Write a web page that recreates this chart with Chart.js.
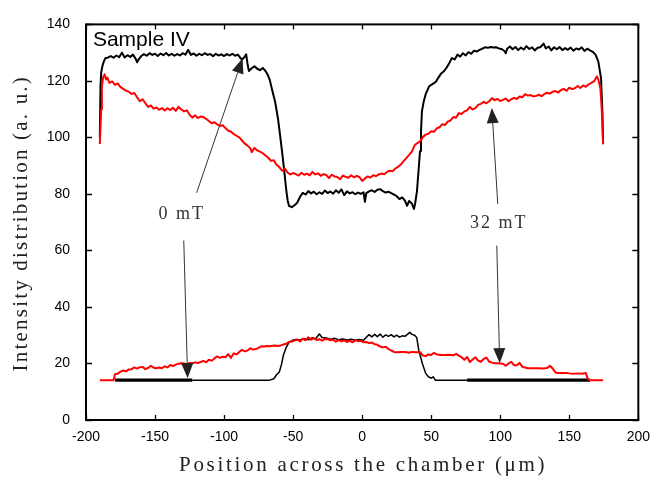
<!DOCTYPE html>
<html><head><meta charset="utf-8">
<script src="https://cdn.jsdelivr.net/npm/chart.js@4"></script>
<style>html,body{margin:0;padding:0;background:#fff}canvas{display:block}</style>
</head><body>
<canvas id="c" width="659" height="477"></canvas>
<script>
// ---- tick labels ----
const xTickValues = [-200,-150,-100,-50,0,50,100,150,200];
const yTickValues = [0,20,40,60,80,100,120,140];

// ---- series: [position (µm), intensity (a.u.)] ----
const upper0mT = [[-190,100],[-189.5,118],[-189,123],[-188,125.5],[-187,127],[-186,128],[-184,128.3],[-182,128.8],[-180,128.2],[-178,129.0],[-176,128.4],[-174,130.0],[-172,128.3],[-170,129.1],[-168,128.5],[-166,129.3],[-164,127.8],[-163,126.6],[-162,127.5],[-160,128.8],[-158,129.5],[-156,128.9],[-154,129.8],[-152,129.2],[-150,129.6],[-148,128.8],[-146,129.7],[-144,129.1],[-142,129.9],[-140,129.0],[-138,129.6],[-136,128.9],[-134,129.5],[-132,129.0],[-130,129.8],[-128,129.3],[-126,131.0],[-124,129.2],[-122,129.7],[-120,128.9],[-118,129.6],[-116,129.1],[-114,129.8],[-112,129.2],[-110,129.5],[-108,128.7],[-106,129.6],[-104,129.0],[-102,129.4],[-100,128.8],[-98,129.5],[-96,129.0],[-94,129.6],[-92,128.9],[-90,129.3],[-88,128.0],[-87,127.5],[-85,128.6],[-84,129.4],[-83,126.0],[-82,123.5],[-80,124.5],[-78,125.2],[-76,124.3],[-74,123.8],[-72,124.6],[-70,123.5],[-68.5,122.3],[-67,120.5],[-65,116.4],[-63,112.5],[-61,106.8],[-59.5,101],[-58,95],[-56.5,88.5],[-55,81.5],[-54,77.8],[-53,75.8],[-51,75.3],[-49,76],[-47,76.9],[-45,79],[-43,80.4],[-41,79.8],[-39,81.0],[-37,80.2],[-35,80.8],[-33,79.9],[-31,80.6],[-29,80.0],[-27,81.2],[-25,80.3],[-23,80.9],[-21,80.1],[-19,81.3],[-17,80.4],[-15,81.6],[-13,79.6],[-11,80.9],[-9,80.2],[-7,80.6],[-5,79.9],[-3,80.5],[-1,80.0],[1,80.6],[2,77.2],[3,80.3],[5,80.9],[7,81.3],[9,80.7],[11,81.5],[13,81.7],[15,81.0],[17,80.5],[19,80.8],[21,80.3],[23,79.8],[25,79.2],[27,78.2],[29,78.8],[31,77.6],[32.5,75.8],[34,77.5],[36,76.6],[37.5,74.7],[38.5,77],[39.7,81],[40.8,88],[41.9,95.2],[42.6,102],[43.3,109.3],[44.5,112.5],[46,115.3],[48.4,118],[50,118.6],[52,119.2],[53.4,119.7],[55,121],[57,122.5],[59,123.3],[61,124.6],[63,126.2],[65,128.1],[67,127.6],[69,129.3],[71,128.6],[73,129.8],[75,129.0],[77,130.2],[79,129.6],[81,130.7],[83,130.4],[85,131.0],[87,131.4],[89,131.9],[91,131.7],[93,132.0],[95,131.8],[97,131.9],[99,131.5],[101,131.3],[103,130.6],[104,129.8],[105,131.4],[107,132.2],[109,131.2],[111,132.0],[113,130.9],[115,131.8],[117,131.1],[119,132.3],[121,131.3],[123,131.9],[125,130.8],[127,131.7],[129,131.9],[131.4,133.2],[133,131.5],[135,132.2],[137,130.8],[139,131.9],[141,131.2],[143,132.0],[145,130.9],[147,131.6],[149,131.0],[151,131.8],[153,130.7],[155,131.5],[157,131.1],[159,131.9],[161,130.6],[163,131.4],[165,130.8],[167,130.3],[169,129.3],[171,126.9],[173,121],[174,109],[174.5,97.6]];

const upper32mT = [[-190,97.7],[-189,110],[-188.5,118],[-187.5,121.5],[-186.5,122.3],[-185.5,120.5],[-184.5,121.2],[-183,119.3],[-181,119.8],[-179,118.6],[-177,119.1],[-175,117.8],[-173,117.2],[-171,116.5],[-169,116.2],[-167,115.4],[-165,115.7],[-163,114.2],[-161,112.8],[-159,113.5],[-157,112.1],[-155,110.8],[-153,111.3],[-151,110.2],[-149,110.6],[-147,109.8],[-145,110.4],[-143,109.5],[-141,110.3],[-139,109.7],[-137,110.5],[-135,109.4],[-133,110.8],[-131,109.9],[-129,109.2],[-127,109.6],[-125,108.1],[-123,107.0],[-121,107.8],[-119,106.9],[-117,107.4],[-115,107.2],[-113,106.6],[-111,105.8],[-109,105.0],[-107,105.4],[-105,104.6],[-103,104.1],[-101,104.3],[-99,103.3],[-97,102.4],[-95,102.0],[-93,101.2],[-91,100.6],[-89,100.0],[-87,98.9],[-85,97.8],[-83,97.1],[-81,96.2],[-80,94.8],[-78,96.3],[-76,95.4],[-74,95.0],[-72,94.4],[-70,93.6],[-68,92.8],[-66,91.7],[-64,91.9],[-62,90.3],[-60,89.5],[-58,88.2],[-56,89.0],[-54,87.6],[-52,86.9],[-50,87.4],[-48,87.0],[-46,86.5],[-44,87.5],[-42,86.8],[-40,87.2],[-38,86.6],[-36,87.8],[-34,86.9],[-32,87.3],[-30,86.4],[-28,87.0],[-26,86.7],[-24,85.6],[-22,86.8],[-20,86.2],[-18,86.0],[-16,85.2],[-14,86.5],[-12,86.1],[-10,85.7],[-8,86.6],[-6,85.9],[-4,86.4],[-2,86.0],[0,84.6],[2,85.5],[4,86.2],[6,85.8],[8,86.6],[10,86.3],[12,86.9],[14,87.2],[16,87.0],[18,87.8],[20,88.2],[22,88.0],[24,89.0],[26,89.6],[28,90.4],[30,91.6],[32,92.7],[34,93.8],[36,95.0],[38,97.2],[40,98.0],[42,98.6],[44,100.2],[46,101.0],[48,101.3],[50,102.2],[52,102.0],[54,103.2],[56,103.6],[58,104.7],[60,104.4],[62,105.6],[64,106.0],[66,107.2],[68,107.0],[70,108.6],[72,108.3],[74,109.2],[76,109.6],[78,110.8],[80,109.9],[82,110.4],[84,111.5],[86,111.9],[88,112.6],[90,112.1],[92,112.8],[94,113.9],[96,113.2],[98,113.6],[100,112.9],[102,113.3],[104,113.8],[106,112.8],[108,113.5],[110,114.0],[112,113.6],[114,114.5],[116,114.2],[118,115.3],[120,114.8],[122,115.0],[124,114.5],[126,114.7],[128,115.1],[130,114.6],[132,115.4],[134,115.8],[136,115.5],[138,116.2],[140,116.4],[142,115.9],[144,116.8],[146,117.2],[148,116.5],[150,117.6],[152,117.1],[154,117.4],[156,118.2],[158,117.5],[160,118.4],[162,117.9],[164,118.8],[166,119.3],[168,119.9],[170,121.6],[171,120.6],[172.5,117.4],[173.5,110],[174.5,97.7]];

const lower0mT = [[-179,14.1],[-123,14.1],[-67,14.1],[-64,14.6],[-62,16],[-60,17],[-58.5,19.5],[-57,23],[-55,25.7],[-53,27.5],[-50.5,28.2],[-48,28.5],[-45,28.3],[-42,28.8],[-39,28.4],[-36,29.1],[-34,28.6],[-31,30.4],[-29,29.2],[-26,29.0],[-23,28.6],[-20,28.9],[-17,28.4],[-14,28.7],[-11,28.3],[-8,28.6],[-5,28.2],[-2,28.5],[1,28.2],[3,29.3],[5,30.2],[7,29.4],[9,30.3],[11,29.5],[13,30.4],[15,29.3],[17,30.1],[19,29.6],[21,30.2],[23,29.4],[25,30.0],[27,29.3],[29,29.8],[31,29.6],[33,30.4],[34.5,31.0],[36,30.3],[38,30.0],[39.5,29.2],[41,24.7],[43.6,20],[46,16.5],[48,15.3],[50,14.8],[51.5,15.3],[53,14.1],[76,14.1],[165,14.1]];

const lower32mT = [[-190,14.1],[-180,14.1],[-179,16.2],[-177,16.4],[-175,17.1],[-173,17.5],[-171,17.2],[-169,17.9],[-167,18.0],[-165,18.6],[-163,18.2],[-161,18.7],[-159,18.8],[-157,18.0],[-155,18.4],[-153,19.2],[-151,18.5],[-149,18.3],[-147,18.6],[-145,18.3],[-143,19.0],[-141,18.6],[-139,19.5],[-137,19.1],[-135,19.6],[-133,19.9],[-131,20.1],[-129,20.0],[-127,19.8],[-125,20.2],[-123,20.1],[-121,20.4],[-119,20.2],[-117,20.5],[-115,20.9],[-113,20.4],[-111,21.3],[-109,21.0],[-107,21.8],[-105,22.5],[-103,22.0],[-101,22.4],[-99,22.2],[-97,23.3],[-95,22.0],[-93,23.6],[-91,23.2],[-89,24.1],[-87,24.8],[-85,24.3],[-83,24.6],[-81,25.4],[-79,24.9],[-77,25.1],[-75,25.5],[-73,26.1],[-71,26.0],[-69,26.2],[-67,26.1],[-65,26.3],[-63,26.4],[-61,26.2],[-59,26.4],[-57,26.7],[-55,27.0],[-53,27.6],[-51,27.8],[-49,28.1],[-47,28.5],[-45,27.8],[-43,28.8],[-41,28.2],[-39,29.3],[-37,28.4],[-35,29.0],[-33,28.3],[-31,28.6],[-29,28.1],[-27,28.7],[-25,28.6],[-23,28.2],[-21,28.4],[-19,27.7],[-17,28.3],[-15,27.8],[-13,28.2],[-11,27.6],[-9,28.1],[-7,27.5],[-5,28.2],[-3,27.9],[-1,28.0],[1,27.5],[3,27.6],[5,27.2],[7,27.4],[9,26.8],[11,26.6],[13,26.0],[15,25.7],[17,25.9],[19,25.2],[21,24.6],[23,24.1],[25,24.0],[28,24.1],[31,24.1],[34,23.8],[36,24.1],[39,24.0],[42,24.0],[44,22.8],[46,22.6],[48,23.2],[50,23.0],[52,23.8],[54,23.2],[57,23.0],[60,23.0],[63,23.1],[66,22.9],[68,23.4],[70,22.8],[72,22.2],[74,21.3],[76,22.3],[78,20.5],[80,21.4],[82,22.2],[84,21.0],[86,20.6],[88,21.6],[90,22.1],[92,20.6],[94,20.3],[96,20.1],[98,20.1],[100,20.0],[102,19.9],[104,19.2],[106,20.0],[108,20.6],[110,19.4],[112,19.4],[114,20.2],[116,18.8],[118,18.6],[120,18.3],[122,18.3],[125,18.3],[128,18.3],[131,18.2],[134,18.4],[136,19.2],[138,18.2],[140,16.8],[142,16.6],[145,16.6],[148,16.6],[150,16.5],[153,16.4],[156,16.5],[159,16.4],[162,16.6],[163.5,14.4],[165,14.1],[174.5,14.1]];

// ---- annotations (data coordinates) ----
const labelTexts = ['0 mT', '32 mT'];
const labelAt = [[-130.7, 71.2], [98.9, 68.0]];
const arrowList = [ // tail x, tail y, tip x, tip y
  [-119.9, 80.4, -86.6, 128.0],
  [-129.2, 63.5, -126.4, 14.8],
  [98.2, 76.5, 93.9, 110.4],
  [97.5, 61.7, 99.6, 20.1]
];
const panelLabel = 'Sample IV';
const panelAt = [-195, 132.2];

const toPts = a => a.map(p => ({x: p[0], y: p[1]}));

function drawArrow(ctx, x0, y0, x1, y1) {
  const ang = Math.atan2(y1 - y0, x1 - x0), L = 15, W = 6;
  const bx = x1 - L * Math.cos(ang), by = y1 - L * Math.sin(ang);
  ctx.beginPath(); ctx.moveTo(x0, y0); ctx.lineTo(bx, by); ctx.stroke();
  ctx.beginPath(); ctx.moveTo(x1, y1);
  ctx.lineTo(bx + W * Math.sin(ang), by - W * Math.cos(ang));
  ctx.lineTo(bx - W * Math.sin(ang), by + W * Math.cos(ang));
  ctx.closePath(); ctx.fill();
}

const overlay = {
  id: 'overlay',
  afterDraw(chart) {
    const {ctx, chartArea: a, scales: {x, y}} = chart;
    ctx.save();
    // frame
    ctx.strokeStyle = '#000'; ctx.lineWidth = 2;
    ctx.strokeRect(a.left, a.top, a.right - a.left, a.bottom - a.top);
    // inward ticks
    ctx.lineWidth = 1.3;
    ctx.beginPath();
    xTickValues.forEach(v => {
      const px = Math.round(x.getPixelForValue(v)) + 0.5;
      ctx.moveTo(px, a.bottom); ctx.lineTo(px, a.bottom - 5);
      ctx.moveTo(px, a.top); ctx.lineTo(px, a.top + 5);
    });
    yTickValues.forEach(v => {
      const py = Math.round(y.getPixelForValue(v)) + 0.5;
      ctx.moveTo(a.left, py); ctx.lineTo(a.left + 6, py);
      ctx.moveTo(a.right, py); ctx.lineTo(a.right - 6, py);
    });
    ctx.stroke();
    // arrows
    ctx.strokeStyle = '#333'; ctx.fillStyle = '#222'; ctx.lineWidth = 1;
    arrowList.forEach(r => drawArrow(ctx, x.getPixelForValue(r[0]), y.getPixelForValue(r[1]),
                                          x.getPixelForValue(r[2]), y.getPixelForValue(r[3])));
    // labels
    ctx.fillStyle = '#333';
    ctx.font = '18px "Liberation Serif", "Times New Roman", serif';
    ctx.letterSpacing = '2px';
    ctx.textAlign = 'center'; ctx.textBaseline = 'alphabetic';
    labelTexts.forEach((t, i) => ctx.fillText(t, x.getPixelForValue(labelAt[i][0]), y.getPixelForValue(labelAt[i][1])));
    // panel label
    ctx.letterSpacing = '0px';
    ctx.fillStyle = '#000';
    ctx.font = '21px "Liberation Sans", Arial, sans-serif';
    ctx.textAlign = 'left';
    ctx.fillText(panelLabel, x.getPixelForValue(panelAt[0]), y.getPixelForValue(panelAt[1]));
    // axis titles
    ctx.fillStyle = '#222';
    ctx.font = '21px "Liberation Serif", "Times New Roman", serif';
    ctx.letterSpacing = '2.7px';
    ctx.textAlign = 'center'; ctx.textBaseline = 'alphabetic';
    ctx.fillText('Position across the chamber (\u03bcm)', (a.left + a.right) / 2 + 1, 471);
    ctx.letterSpacing = '2.2px';
    ctx.translate(27, (a.top + a.bottom) / 2 + 1);
    ctx.rotate(-Math.PI / 2);
    ctx.fillText('Intensity distribution (a. u.)', 0, 0);
    ctx.restore();
  }
};

const tickFont = {family: '"Liberation Sans", Arial, sans-serif', size: 14};

new Chart(document.getElementById('c'), {
  type: 'line',
  data: {
    datasets: [
      {label: '32 mT upper', data: toPts(upper32mT), borderColor: '#ff0000', borderWidth: 2},
      {label: '32 mT lower', data: toPts(lower32mT), borderColor: '#ff0000', borderWidth: 2},
      {label: '0 mT upper', data: toPts(upper0mT), borderColor: '#000000', borderWidth: 2},
      {label: '0 mT lower', data: toPts(lower0mT), borderColor: '#000000', borderWidth: 2,
        segment: {borderWidth: c => (c.p0.parsed.x < -123 || c.p0.parsed.x >= 76) ? 3.2 : 1.5}}
    ]
  },
  options: {
    responsive: false,
    animation: false,
    devicePixelRatio: 1,
    layout: {padding: {top: 23, right: 19, left: 0, bottom: 0}},
    elements: {point: {radius: 0}, line: {tension: 0, borderJoinStyle: 'round'}},
    plugins: {legend: {display: false}, tooltip: {enabled: false}},
    scales: {
      x: {
        type: 'linear', min: -200, max: 200,
        afterFit: s => { s.height = 57; },
        grid: {display: false, drawTicks: false}, border: {display: false},
        ticks: {stepSize: 50, font: tickFont, color: '#000', padding: 9, maxRotation: 0, autoSkip: false}
      },
      y: {
        min: 0, max: 140,
        afterFit: s => { s.width = 86; },
        grid: {display: false, drawTicks: false}, border: {display: false},
        ticks: {stepSize: 20, font: tickFont, color: '#000', padding: 16}
      }
    }
  },
  plugins: [overlay]
});
</script>
</body></html>
